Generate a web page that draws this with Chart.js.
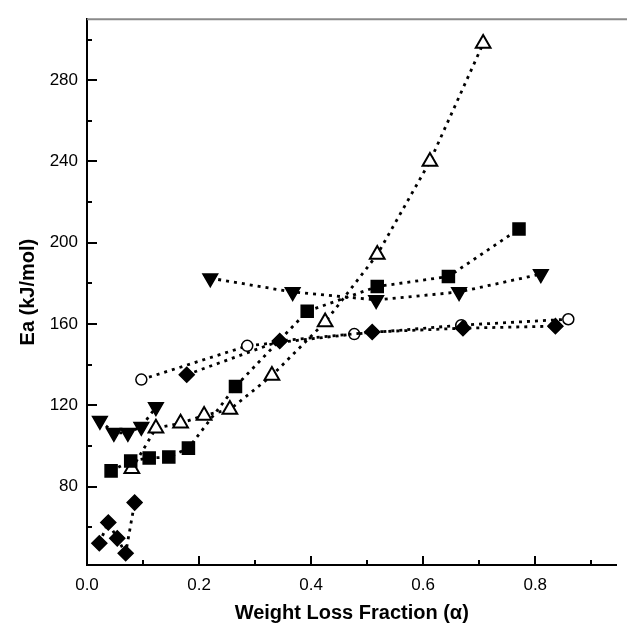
<!DOCTYPE html>
<html>
<head>
<meta charset="utf-8">
<script src="https://cdn.jsdelivr.net/npm/chart.js@4/dist/chart.umd.min.js"></script>
<style>
  html, body { margin: 0; padding: 0; background: #fff; }
  #wrap { width: 627px; height: 632px; }
</style>
</head>
<body>
<div id="wrap"><canvas id="c" width="627" height="632"></canvas></div>
<script>
// ---- data (null = break in the dotted line) ----
const diamondX = [0.022, 0.038, 0.054, 0.069, 0.085, null, 0.178, 0.344, 0.509, 0.671, 0.836];
const diamondY = [52.2, 62.4, 54.6, 47.3, 72.2, null, 135.1, 151.7, 156.1, 158.0, 159.0];

const squareX = [0.043, 0.078, 0.111, 0.146, 0.181, 0.265, 0.393, 0.518, 0.645, 0.771];
const squareY = [87.8, 92.7, 94.1, 94.6, 99.0, 129.3, 166.3, 178.5, 183.4, 206.8];

const invTriX = [0.023, 0.048, 0.073, 0.097, 0.123, null, 0.220, 0.367, 0.516, 0.664, 0.810];
const invTriY = [112.5, 106.5, 106.5, 109.5, 119.2, null, 182.6, 175.8, 171.9, 175.8, 184.6];

const openTriX = [0.080, 0.123, 0.167, 0.209, 0.255, 0.330, 0.425, 0.518, 0.612, 0.707];
const openTriY = [88.8, 108.8, 111.2, 115.1, 118.0, 134.7, 161.0, 194.2, 240.0, 298.0];

const circleX = [0.097, 0.286, 0.477, 0.668, 0.859];
const circleY = [132.7, 149.3, 155.1, 159.5, 162.4];

const xTickValues = [0.0, 0.2, 0.4, 0.6, 0.8];
const xMinorValues = [0.1, 0.3, 0.5, 0.7, 0.9];
const yTickValues = [80, 120, 160, 200, 240, 280];
const yMinorValues = [60, 100, 140, 180, 220, 260, 300];

const xTitle = 'Weight Loss Fraction (\u03B1)';
const yTitle = 'Ea (kJ/mol)';

function pts(xs, ys) {
  return xs.map((x, i) => ({ x: x === null ? NaN : x, y: ys[i] }));
}

const FONT = "'Liberation Sans', Arial, sans-serif";
const lineStyle = {
  showLine: true,
  borderColor: '#000',
  borderWidth: 2.8,
  borderDash: [3, 5],
  spanGaps: false,
  pointBorderColor: '#000',
  pointBorderWidth: 1.5,
  tension: 0
};

const innerTicks = {
  id: 'innerTicks',
  afterDraw(chart) {
    const { ctx, chartArea: a, scales: { x, y } } = chart;
    ctx.save();
    ctx.strokeStyle = '#000';
    ctx.lineWidth = 2;
    ctx.beginPath();
    yTickValues.forEach(v => { const p = Math.round(y.getPixelForValue(v)); ctx.moveTo(a.left, p); ctx.lineTo(a.left + 10, p); });
    yMinorValues.forEach(v => { const p = Math.round(y.getPixelForValue(v)); ctx.moveTo(a.left, p); ctx.lineTo(a.left + 5, p); });
    xTickValues.forEach(v => { const p = Math.round(x.getPixelForValue(v)); ctx.moveTo(p, a.bottom); ctx.lineTo(p, a.bottom - 9); });
    xMinorValues.forEach(v => { const p = Math.round(x.getPixelForValue(v)); ctx.moveTo(p, a.bottom); ctx.lineTo(p, a.bottom - 5); });
    ctx.stroke();
    // faint top frame line
    ctx.strokeStyle = '#8a8a8a';
    ctx.lineWidth = 2;
    ctx.beginPath();
    ctx.moveTo(a.left, a.top);
    ctx.lineTo(chart.width, a.top);
    ctx.stroke();
    ctx.restore();
  }
};

new Chart(document.getElementById('c'), {
  type: 'scatter',
  data: {
    datasets: [
      Object.assign({}, lineStyle, { label: 'diamonds', data: pts(diamondX, diamondY), pointStyle: 'rectRot', pointRadius: 7.5, pointBackgroundColor: '#000' }),
      Object.assign({}, lineStyle, { label: 'squares', data: pts(squareX, squareY), pointStyle: 'rect', pointRadius: 8.5, pointBackgroundColor: '#000' }),
      Object.assign({}, lineStyle, { label: 'inverted triangles', data: pts(invTriX, invTriY), pointStyle: 'triangle', pointRotation: 180, pointRadius: 8.5, pointBackgroundColor: '#000' }),
      Object.assign({}, lineStyle, { label: 'open triangles', data: pts(openTriX, openTriY), pointStyle: 'triangle', pointRadius: 8.5, pointBorderWidth: 2, pointBackgroundColor: '#fff' }),
      Object.assign({}, lineStyle, { label: 'circles', data: pts(circleX, circleY), pointStyle: 'circle', pointRadius: 5.5, pointBackgroundColor: '#fff' })
    ]
  },
  options: {
    responsive: false,
    animation: false,
    events: [],
    layout: { padding: { top: 13, right: 0, bottom: 0, left: 0 } },
    plugins: { legend: { display: false }, tooltip: { enabled: false } },
    scales: {
      x: {
        type: 'linear',
        min: 0,
        max: 0.945,
        afterFit: s => { s.height = 67; },
        afterBuildTicks: s => { s.ticks = xTickValues.map(v => ({ value: v })); },
        grid: { display: false, drawTicks: false },
        border: { display: true, color: '#000', width: 2 },
        ticks: { padding: 10, color: '#000', font: { family: FONT, size: 17 }, callback: v => Number(v).toFixed(1), maxRotation: 0, autoSkip: false },
        title: { display: true, text: xTitle, color: '#000', font: { family: FONT, size: 20, weight: 'bold' }, padding: { top: 0, bottom: 7 } }
      },
      y: {
        type: 'linear',
        min: 41.5,
        max: 310,
        afterFit: s => { s.width = 87; },
        afterBuildTicks: s => { s.ticks = yTickValues.map(v => ({ value: v })); },
        grid: { display: false, drawTicks: false },
        border: { display: true, color: '#000', width: 2 },
        ticks: { padding: 9, color: '#000', font: { family: FONT, size: 17 }, callback: v => String(v), autoSkip: false },
        title: { display: true, text: yTitle, color: '#000', font: { family: FONT, size: 20, weight: 'bold' }, padding: { top: 16, bottom: 0 } }
      }
    }
  },
  plugins: [innerTicks]
});
</script>
</body>
</html>
